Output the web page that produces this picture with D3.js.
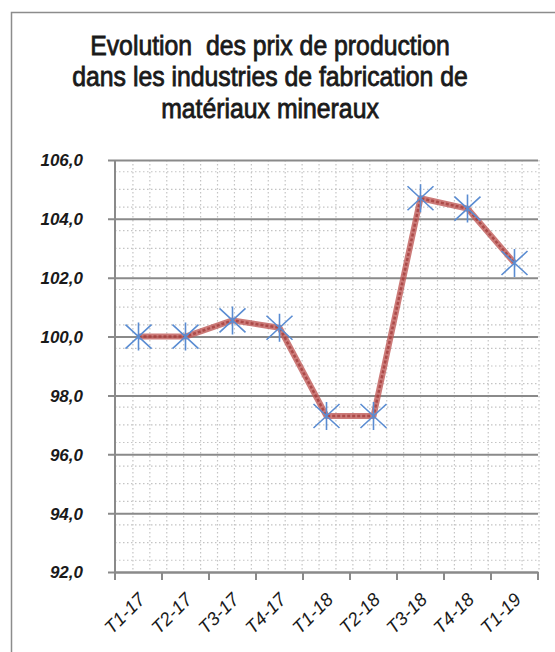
<!DOCTYPE html>
<html><head><meta charset="utf-8">
<script src="https://cdn.jsdelivr.net/npm/d3@7"></script>
<style>body{margin:0;background:#fff}svg{display:block}</style>
</head><body><svg id="c" width="555" height="652"></svg>
<script>
const categories = ["T1-17","T2-17","T3-17","T4-17","T1-18","T2-18","T3-18","T4-18","T1-19"];
const values = [100.0, 100.0, 100.55, 100.3, 97.3, 97.3, 104.7, 104.35, 102.5];
const yTicks = [92, 94, 96, 98, 100, 102, 104, 106];
const titleLines = ["Evolution  des prix de production", "dans les industries de fabrication de", "matériaux mineraux"];

const svg = d3.select("#c");
const L = 115, R = 538, T = 160, B = 572;
const x = d3.scaleBand().domain(categories).range([L, R]);
const y = d3.scaleLinear().domain([92, 106]).range([B, T]);
const fmt = v => d3.format(".1f")(v).replace(".", ",");

// frame
svg.append("rect").attr("x", 11.5).attr("y", 12.5).attr("width", 700).attr("height", 700)
  .attr("fill", "none").attr("stroke", "#8c8c8c").attr("stroke-width", 1.5);

// title (condensed look via horizontal scaling)
const cx = 270;
const title = svg.append("g").attr("transform", `translate(${cx},0)`);
const tt = title.append("text").attr("text-anchor", "middle")
  .attr("font-family", "'Liberation Sans', Arial, sans-serif")
  .attr("font-size", 27).attr("fill", "#1a1a1a")
  .attr("stroke", "#1a1a1a").attr("stroke-width", 0.8)
  .style("white-space", "pre");
tt.selectAll("tspan").data(titleLines).join("tspan")
  .attr("x", 0).attr("y", (d, i) => 55 + i * 31.5).text(d => d);
const w0 = tt.select("tspan").node().getComputedTextLength();
title.attr("transform", `translate(${cx},0) scale(${360 / w0},1)`);

// minor horizontal dotted grid
const minor = [];
yTicks.slice(1).forEach(m => [0.4, 1.0, 1.6].forEach(o => minor.push(m - o)));
svg.append("g").selectAll("line").data(minor).join("line")
  .attr("x1", L).attr("x2", R).attr("y1", d => y(d)).attr("y2", d => y(d))
  .attr("stroke", "#c4c4c4").attr("stroke-width", 1.2).attr("stroke-dasharray", "1.5,2.5");

// minor vertical dotted grid
const nV = 25;
svg.append("g").selectAll("line").data(d3.range(1, nV + 1)).join("line")
  .attr("x1", d => L + 1 + d * (R - L) / nV).attr("x2", d => L + 1 + d * (R - L) / nV)
  .attr("y1", T).attr("y2", B)
  .attr("stroke", "#c4c4c4").attr("stroke-width", 1.2).attr("stroke-dasharray", "1.5,2.5");

// y axis with major gridlines
const yAxis = d3.axisLeft(y).tickValues(yTicks).tickFormat(fmt).tickSize(-(R - L)).tickPadding(32);
const gy = svg.append("g").attr("transform", `translate(${L},0)`).call(yAxis);
gy.select(".domain").remove();
gy.selectAll(".tick line").attr("x1", -7).attr("stroke", "#8a8a8a").attr("stroke-width", 2);
gy.selectAll(".tick text").attr("font-family", "'Liberation Sans', Arial, sans-serif")
  .attr("font-size", 17).attr("font-style", "italic").attr("font-weight", "bold")
  .attr("fill", "#1a1a1a").attr("dy", "0.35em");
svg.append("line").attr("x1", L).attr("x2", L).attr("y1", T).attr("y2", B + 7)
  .attr("stroke", "#8a8a8a").attr("stroke-width", 2);

// x axis
const xAxis = d3.axisBottom(x).tickSize(0).tickSizeOuter(0);
const gx = svg.append("g").attr("transform", `translate(0,${B})`).call(xAxis);
gx.select(".domain").attr("stroke", "#8a8a8a").attr("stroke-width", 2);
gx.selectAll(".tick text").attr("font-family", "'Liberation Sans', Arial, sans-serif")
  .attr("font-size", 18.5).attr("font-style", "italic").attr("fill", "#1a1a1a")
  .attr("text-anchor", "end").attr("dy", "0.35em")
  .attr("transform", `translate(1,22) rotate(-45)`);
const bounds = categories.map(c => x(c)).concat([R]);
svg.append("g").selectAll("line").data(bounds).join("line")
  .attr("x1", d => d).attr("x2", d => d).attr("y1", B).attr("y2", B + 8)
  .attr("stroke", "#8a8a8a").attr("stroke-width", 2);

// line
const line = d3.line().x((d, i) => x(categories[i]) + x.bandwidth() / 2).y(d => y(d));
svg.append("path").datum(values).attr("d", line).attr("fill", "none")
  .attr("stroke", "#bf5a57").attr("stroke-opacity", 0.8).attr("stroke-width", 6).attr("stroke-linejoin", "round");
svg.append("path").datum(values).attr("d", line).attr("fill", "none")
  .attr("stroke", "#9e3634").attr("stroke-width", 2.5).attr("stroke-dasharray", "3,2").attr("stroke-opacity", 0.7);

// markers
const mk = svg.append("g").selectAll("g").data(values).join("g")
  .attr("transform", (d, i) => `translate(${x(categories[i]) + x.bandwidth() / 2},${y(d)})`);
mk.append("path").attr("d", "M0,-14V14M-13,-12L13,12M-13,12L13,-12")
  .attr("stroke", "#5a8cd2").attr("stroke-width", 1.6).attr("fill", "none");
</script></body></html>
